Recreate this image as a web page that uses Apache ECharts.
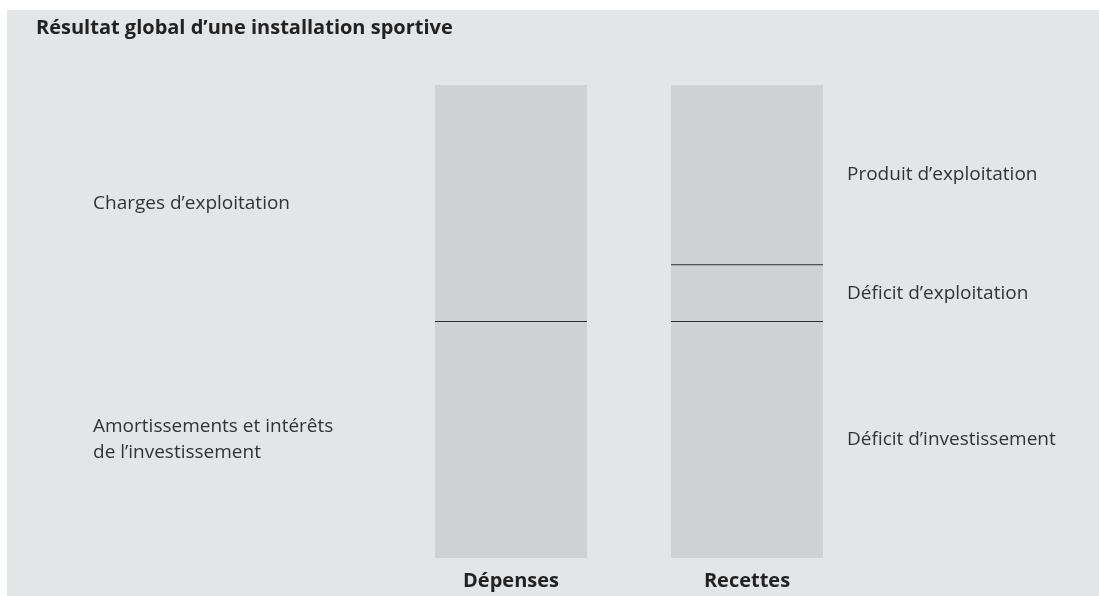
<!DOCTYPE html>
<html>
<head>
<meta charset="utf-8">
<script src="https://cdn.jsdelivr.net/npm/echarts@6/dist/echarts.min.js"></script>
<style>
  html, body { margin: 0; padding: 0; background: #ffffff; }
  #chart { width: 1099px; height: 596px; }
</style>
</head>
<body>
<div id="chart"></div>
<script>
// Columns and their stacked parts (bottom to top), in the same unit.
const categories = ['Dépenses', 'Recettes'];
const depensesLabels = ['Amortissements et intérêts\nde l’investissement', 'Charges d’exploitation'];
const depensesValues = [50, 50];
const recettesLabels = ['Déficit d’investissement', 'Déficit d’exploitation', 'Produit d’exploitation'];
const recettesValues = [50, 12, 38];
const titleText = 'Résultat global d’une installation sportive';

const FONT = '"Open Sans", "Noto Sans", sans-serif';
const PANEL = '#e4e5e7';
const BAR = '#d0d1d3';
const TEXT = '#333333';

// Turn each column's parts into [category, from, to, partIndex, label] rows.
function stackRows(catIndex, values, labels) {
  const rows = [];
  let acc = 0;
  values.forEach((v, i) => {
    rows.push([catIndex, acc, acc + v, i, labels[i]]);
    acc += v;
  });
  return rows;
}
const rows = stackRows(0, depensesValues, depensesLabels)
  .concat(stackRows(1, recettesValues, recettesLabels));

const chart = echarts.init(document.getElementById('chart'), null, { renderer: 'canvas' });

function renderItem(params, api) {
  const cat = api.value(0);
  const lo = api.value(1);
  const hi = api.value(2);
  const label = rows[params.dataIndex][4];
  const pLo = api.coord([cat, lo]);
  const pHi = api.coord([cat, hi]);
  const band = api.size([1, 0])[0];
  const w = band * 0.644;
  const x0 = pLo[0] - w / 2;
  const x1 = pLo[0] + w / 2;
  const children = [{
    type: 'rect',
    shape: { x: x0, y: pHi[1], width: w, height: pLo[1] - pHi[1] },
    style: { fill: BAR }
  }];
  // dividing rule along the bottom of every part that sits on another one
  if (lo > 0) {
    children.push({
      type: 'line',
      z2: 10,
      shape: { x1: x0, y1: pLo[1], x2: x1, y2: pLo[1] },
      style: { stroke: '#2e2e2e', lineWidth: 1 }
    });
  }
  const midY = (pLo[1] + pHi[1]) / 2;
  const onLeft = cat === 0;
  children.push({
    type: 'text',
    x: onLeft ? x0 - 342 : x1 + 24,
    y: midY,
    style: {
      text: label,
      fill: TEXT,
      font: '19px ' + FONT,
      lineHeight: 26,
      textAlign: 'left',
      textVerticalAlign: 'middle'
    }
  });
  return { type: 'group', children: children };
}

chart.setOption({
  backgroundColor: '#ffffff',
  animation: false,
  graphic: [{
    type: 'rect',
    z: -10,
    shape: { x: 7, y: 10, width: 1092, height: 586 },
    style: { fill: PANEL }
  }],
  title: {
    text: titleText,
    left: 31,
    top: 13,
    textStyle: { fontFamily: FONT, fontSize: 20, fontWeight: 'bold', color: '#222222' }
  },
  grid: { left: 393, width: 472, top: 85, height: 473 },
  xAxis: {
    type: 'category',
    data: categories,
    axisLine: { show: false },
    axisTick: { show: false },
    axisLabel: {
      margin: 13,
      fontFamily: FONT,
      fontSize: 20,
      fontWeight: 'bold',
      color: '#222222'
    }
  },
  yAxis: {
    type: 'value',
    min: 0,
    max: 100,
    show: false
  },
  series: [{
    type: 'custom',
    renderItem: renderItem,
    data: rows.map(r => r.slice(0, 4)),
    encode: { x: 0, y: [1, 2] }
  }]
});
</script>
</body>
</html>
